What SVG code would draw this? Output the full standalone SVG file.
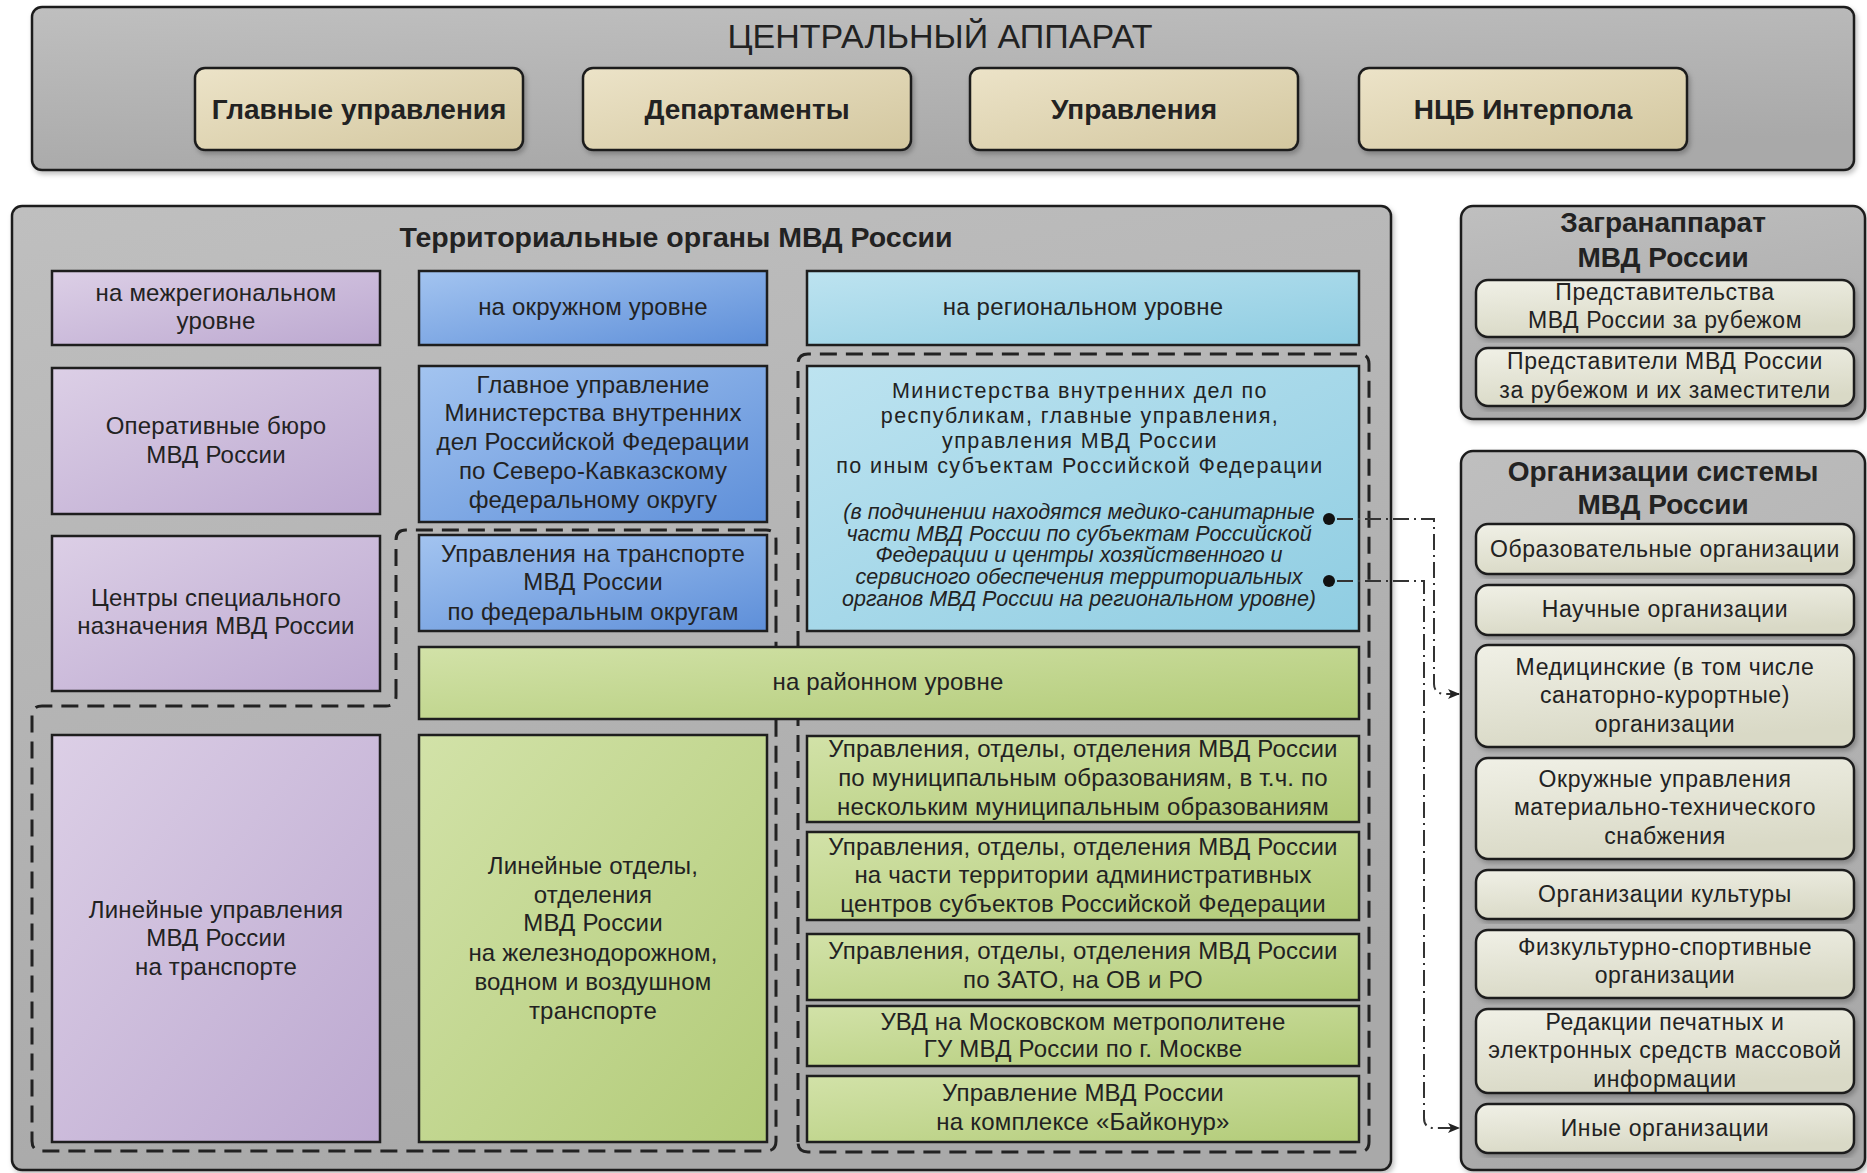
<svg xmlns="http://www.w3.org/2000/svg" width="1867" height="1173" viewBox="0 0 1867 1173">
<defs>
<linearGradient id="gGray" x1="0" y1="0" x2="0.3" y2="1"><stop offset="0" stop-color="#bfbfbf"/><stop offset="1" stop-color="#a9a9a9"/></linearGradient>
<linearGradient id="gBeige" x1="0" y1="0" x2="1" y2="1"><stop offset="0" stop-color="#ece3c8"/><stop offset="1" stop-color="#d3c79f"/></linearGradient>
<linearGradient id="gPurple" x1="0" y1="0" x2="1" y2="1"><stop offset="0" stop-color="#dccfe6"/><stop offset="1" stop-color="#bca8d0"/></linearGradient>
<linearGradient id="gBlue" x1="0" y1="0" x2="1" y2="1"><stop offset="0" stop-color="#a3c4f0"/><stop offset="1" stop-color="#5e8fd9"/></linearGradient>
<linearGradient id="gLBlue" x1="0" y1="0" x2="1" y2="1"><stop offset="0" stop-color="#bde3f0"/><stop offset="1" stop-color="#8fcde2"/></linearGradient>
<linearGradient id="gGreen" x1="0" y1="0" x2="1" y2="1"><stop offset="0" stop-color="#d2e2a8"/><stop offset="1" stop-color="#b2cb78"/></linearGradient>
<linearGradient id="gLight" x1="0" y1="0" x2="0.3" y2="1"><stop offset="0" stop-color="#f0f0e6"/><stop offset="1" stop-color="#d9d9c6"/></linearGradient>
<filter id="sh" x="-5%" y="-5%" width="110%" height="115%"><feDropShadow dx="2" dy="3" stdDeviation="2.5" flood-color="#000" flood-opacity="0.25"/></filter>
<marker id="arr" viewBox="0 0 12 10" refX="11" refY="5" markerWidth="12" markerHeight="10" markerUnits="userSpaceOnUse" orient="auto"><path d="M0,0 L12,5 L0,10 L3,5 z" fill="#222"/></marker>
<style>
.cont{fill:url(#gGray);stroke:#1e1e1e;stroke-width:2.5;filter:url(#sh)}
.top{fill:url(#gBeige);stroke:#1e1e1e;stroke-width:2.5;filter:url(#sh)}
.pur{fill:url(#gPurple);stroke:#1e1e1e;stroke-width:2.5}
.blu{fill:url(#gBlue);stroke:#1e1e1e;stroke-width:2.5}
.lbl{fill:url(#gLBlue);stroke:#1e1e1e;stroke-width:2.5}
.grn{fill:url(#gGreen);stroke:#1e1e1e;stroke-width:2.5}
.lt{fill:url(#gLight);stroke:#1e1e1e;stroke-width:2.5;filter:url(#sh)}
.dash{fill:none;stroke:#222;stroke-width:3;stroke-dasharray:17 9}
.conn{fill:none;stroke:#333;stroke-width:2;stroke-dasharray:16 5 2 5}
text{font-family:"Liberation Sans",Arial,sans-serif;fill:#222;text-anchor:middle}
.t{font-size:24px;letter-spacing:0.2px}
.m{font-size:21.5px;letter-spacing:1.4px}
.b{font-weight:bold;font-size:28px}
.h{font-size:34px}
.i{font-style:italic;font-size:21.5px}
.r{font-size:23px;letter-spacing:0.6px}
</style>
</defs>
<rect width="1867" height="1173" fill="#fff"/>

<g id="central">
<rect class="cont" x="32" y="7" width="1822" height="163" rx="10"/>
<text class="h" x="940" y="48">ЦЕНТРАЛЬНЫЙ АППАРАТ</text>
</g>
<g id="glavnye"><rect class="top" x="195" y="68" width="328" height="82" rx="10"/><text class="b" x="359" y="119">Главные управления</text></g>
<g id="departamenty"><rect class="top" x="583" y="68" width="328" height="82" rx="10"/><text class="b" x="747" y="119">Департаменты</text></g>
<g id="upravleniya"><rect class="top" x="970" y="68" width="328" height="82" rx="10"/><text class="b" x="1134" y="119">Управления</text></g>
<g id="ncb"><rect class="top" x="1359" y="68" width="328" height="82" rx="10"/><text class="b" x="1523" y="119">НЦБ Интерпола</text></g>

<g id="territorial">
<rect class="cont" x="12" y="206" width="1379" height="964" rx="10"/>
<text class="b" x="676" y="247" style="font-size:28.5px">Территориальные органы МВД России</text>
</g>

<g id="regions">
<path class="dash" d="M798,1142 V364 Q798,354 808,354 H1359 Q1369,354 1369,364 V1142 Q1369,1152 1359,1152 H808 Q798,1152 798,1142 Z"/>
<path class="dash" d="M396,696 V540 Q396,530 406,530 H766 Q776,530 776,540 V1141 Q776,1151 766,1151 H42 Q32,1151 32,1141 V716 Q32,706 42,706 H386 Q396,706 396,696 Z"/>
</g>

<g id="mezhreg"><rect class="pur" x="52" y="271" width="328" height="74"/><text class="t" x="216" y="301">на межрегиональном</text><text class="t" x="216" y="329">уровне</text></g>
<g id="operbyuro"><rect class="pur" x="52" y="368" width="328" height="146"/><text class="t" x="216" y="434">Оперативные бюро</text><text class="t" x="216" y="463">МВД России</text></g>
<g id="centry"><rect class="pur" x="52" y="536" width="328" height="155"/><text class="t" x="216" y="606">Центры специального</text><text class="t" x="216" y="634">назначения МВД России</text></g>
<g id="lin-upr"><rect class="pur" x="52" y="735" width="328" height="407"/><text class="t" x="216" y="918">Линейные управления</text><text class="t" x="216" y="946">МВД России</text><text class="t" x="216" y="975">на транспорте</text></g>

<g id="okrug"><rect class="blu" x="419" y="271" width="348" height="74"/><text class="t" x="593" y="315">на окружном уровне</text></g>
<g id="gu-skfo"><rect class="blu" x="419" y="366" width="348" height="156"/>
<text class="t" x="593" y="393">Главное управление</text><text class="t" x="593" y="421">Министерства внутренних</text><text class="t" x="593" y="450">дел Российской Федерации</text><text class="t" x="593" y="479">по Северо-Кавказскому</text><text class="t" x="593" y="508">федеральному округу</text></g>
<g id="upr-transport"><rect class="blu" x="419" y="535" width="348" height="96"/><text class="t" x="593" y="562">Управления на транспорте</text><text class="t" x="593" y="590">МВД России</text><text class="t" x="593" y="620">по федеральным округам</text></g>
<g id="rayon"><rect class="grn" x="419" y="647" width="940" height="72"/><text class="t" x="888" y="690">на районном уровне</text></g>
<g id="lin-otd"><rect class="grn" x="419" y="735" width="348" height="407"/>
<text class="t" x="593" y="874">Линейные отделы,</text><text class="t" x="593" y="903">отделения</text><text class="t" x="593" y="931">МВД России</text><text class="t" x="593" y="961">на железнодорожном,</text><text class="t" x="593" y="990">водном и воздушном</text><text class="t" x="593" y="1019">транспорте</text></g>

<g id="region"><rect class="lbl" x="807" y="271" width="552" height="74"/><text class="t" x="1083" y="315">на региональном уровне</text></g>
<g id="mvd-subj"><rect class="lbl" x="807" y="366" width="552" height="265"/>
<text class="m" x="1080" y="398">Министерства внутренних дел по</text><text class="m" x="1080" y="423">республикам, главные управления,</text><text class="m" x="1080" y="448">управления МВД России</text><text class="m" x="1080" y="473">по иным субъектам Российской Федерации</text>
<text class="i" x="1079" y="519">(в подчинении находятся медико-санитарные</text><text class="i" x="1079" y="541">части МВД России по субъектам Российской</text><text class="i" x="1079" y="562">Федерации и центры хозяйственного и</text><text class="i" x="1079" y="584">сервисного обеспечения территориальных</text><text class="i" x="1079" y="606">органов МВД России на региональном уровне)</text></g>
<g id="mun"><rect class="grn" x="807" y="736" width="552" height="86"/><text class="t" x="1083" y="757">Управления, отделы, отделения МВД России</text><text class="t" x="1083" y="786">по муниципальным образованиям, в т.ч. по</text><text class="t" x="1083" y="815">нескольким муниципальным образованиям</text></g>
<g id="adm"><rect class="grn" x="807" y="832" width="552" height="88"/><text class="t" x="1083" y="855">Управления, отделы, отделения МВД России</text><text class="t" x="1083" y="883">на части территории административных</text><text class="t" x="1083" y="912">центров субъектов Российской Федерации</text></g>
<g id="zato"><rect class="grn" x="807" y="934" width="552" height="66"/><text class="t" x="1083" y="959">Управления, отделы, отделения МВД России</text><text class="t" x="1083" y="988">по ЗАТО, на ОВ и РО</text></g>
<g id="metro"><rect class="grn" x="807" y="1006" width="552" height="60"/><text class="t" x="1083" y="1030">УВД на Московском метрополитене</text><text class="t" x="1083" y="1057">ГУ МВД России по г. Москве</text></g>
<g id="baikonur"><rect class="grn" x="807" y="1076" width="552" height="66"/><text class="t" x="1083" y="1101">Управление МВД России</text><text class="t" x="1083" y="1130">на комплексе «Байконур»</text></g>

<g id="zagran">
<rect class="cont" x="1461" y="206" width="404" height="213" rx="12"/>
<text class="b" x="1663" y="232">Загранаппарат</text><text class="b" x="1663" y="267">МВД России</text>
</g>
<g id="predst-vo"><rect class="lt" x="1476" y="280" width="378" height="57" rx="12"/><text class="r" x="1665" y="300">Представительства</text><text class="r" x="1665" y="328">МВД России за рубежом</text></g>
<g id="predst-li"><rect class="lt" x="1476" y="348" width="378" height="58" rx="12"/><text class="r" x="1665" y="369">Представители МВД России</text><text class="r" x="1665" y="398">за рубежом и их заместители</text></g>

<g id="org">
<rect class="cont" x="1461" y="451" width="404" height="719" rx="12"/>
<text class="b" x="1663" y="481">Организации системы</text><text class="b" x="1663" y="514">МВД России</text>
</g>
<g id="obraz"><rect class="lt" x="1476" y="524" width="378" height="50" rx="12"/><text class="r" x="1665" y="557">Образовательные организации</text></g>
<g id="nauch"><rect class="lt" x="1476" y="585" width="378" height="50" rx="12"/><text class="r" x="1665" y="617">Научные организации</text></g>
<g id="med"><rect class="lt" x="1476" y="645" width="378" height="102" rx="12"/><text class="r" x="1665" y="675">Медицинские (в том числе</text><text class="r" x="1665" y="703">санаторно-курортные)</text><text class="r" x="1665" y="732">организации</text></g>
<g id="okr-mts"><rect class="lt" x="1476" y="758" width="378" height="101" rx="12"/><text class="r" x="1665" y="787">Окружные управления</text><text class="r" x="1665" y="815">материально-технического</text><text class="r" x="1665" y="844">снабжения</text></g>
<g id="kult"><rect class="lt" x="1476" y="870" width="378" height="49" rx="12"/><text class="r" x="1665" y="902">Организации культуры</text></g>
<g id="sport"><rect class="lt" x="1476" y="930" width="378" height="68" rx="12"/><text class="r" x="1665" y="955">Физкультурно-спортивные</text><text class="r" x="1665" y="983">организации</text></g>
<g id="smi"><rect class="lt" x="1476" y="1009" width="378" height="84" rx="12"/><text class="r" x="1665" y="1030">Редакции печатных и</text><text class="r" x="1665" y="1058">электронных средств массовой</text><text class="r" x="1665" y="1087">информации</text></g>
<g id="inye"><rect class="lt" x="1476" y="1104" width="378" height="49" rx="12"/><text class="r" x="1665" y="1136">Иные организации</text></g>

<g id="connectors">
<circle cx="1329" cy="519" r="6" fill="#111"/>
<circle cx="1329" cy="581" r="6" fill="#111"/>
<path class="conn" d="M1337,519 H1434 V684 Q1434,694 1446,694 H1459" marker-end="url(#arr)"/>
<path class="conn" d="M1337,581 H1424 V1118 Q1424,1128 1434,1128 H1459" marker-end="url(#arr)"/>
</g>
</svg>
